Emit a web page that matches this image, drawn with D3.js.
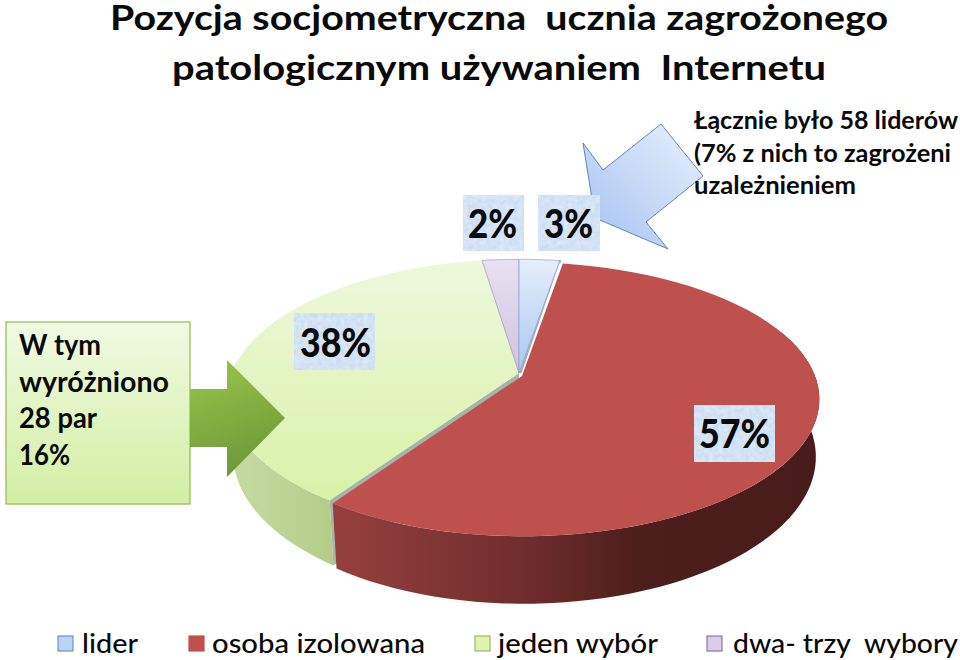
<!DOCTYPE html>
<html><head><meta charset="utf-8">
<script src="https://cdn.jsdelivr.net/npm/d3@7/dist/d3.min.js"></script>
<style>html,body{margin:0;padding:0;background:#fff}svg{display:block}text{font-family:Lato,Carlito,"Open Sans",sans-serif;font-weight:700;fill:#0a0a0a}</style>
</head><body><svg id="c" width="960" height="660"></svg>
<script>
const categories=["lider","osoba izolowana","jeden wybór","dwa- trzy  wybory"];
const values=[2.6,57,38,2.4];
const valueLabels=["3%","57%","38%","2%"];
const titleLines=["Pozycja socjometryczna  ucznia zagrożonego","patologicznym używaniem  Internetu"];
const noteLines=["Łącznie było 58 liderów","(7% z nich to zagrożeni","uzależnieniem"];
const boxLines=["W tym","wyróżniono","28 par","16%"];

const svg=d3.select("#c"),defs=svg.append("defs");
function grad(id,stops,x1,y1,x2,y2){
  const g=defs.append("linearGradient").attr("id",id).attr("x1",x1).attr("y1",y1).attr("x2",x2).attr("y2",y2);
  stops.forEach(s=>g.append("stop").attr("offset",s[0]).attr("stop-color",s[1]));
}
grad("gBlue",[[0,"#e6eefb"],[1,"#a9c6f3"]],0,0,0,1);
grad("gPurple",[[0,"#e8e1f1"],[1,"#cfc2e3"]],0,0,0,1);
grad("gGreen",[[0,"#eef8dc"],[1,"#d8f2a8"]],0,0,0,1);
grad("gBox",[[0,"#f0f9e2"],[1,"#d2efa3"]],0,0,0,1);
grad("gRedSide",[[0,"#96403e"],[.42,"#6c2c2b"],[.62,"#4d1f1c"],[1,"#481c1a"]],0,0,1,0);
grad("gGreenSide",[[0,"#c6dba4"],[1,"#b3cd88"]],0,0,1,0);
grad("gArrowB",[[0,"#eaf1fc"],[1,"#a3c2f2"]],1,0,0,1);
grad("gArrowG",[[0,"#9ac64a"],[1,"#6e9a3a"]],0,0,.3,1);
const noise=defs.append("filter").attr("id","mott").attr("x",0).attr("y",0).attr("width",1).attr("height",1).attr("color-interpolation-filters","sRGB");
noise.append("feTurbulence").attr("type","fractalNoise").attr("baseFrequency",.22).attr("numOctaves",2).attr("seed",4).attr("result","n");
noise.append("feColorMatrix").attr("in","n").attr("type","matrix").attr("values",".12 0 0 0 .77  .1 0 0 0 .84  .06 0 0 0 .93  0 0 0 0 1").attr("result","c");
noise.append("feComposite").attr("in","c").attr("in2","SourceGraphic").attr("operator","in");

// Pie geometry in perspective: the far edge is compressed, the wall base is slightly narrower
const apex={x:519,y:373},AR=293,AL=287,B=133,P=.17,DEPTH=56,ZX=.985;
const px=t=>(Math.sin(t)>=0?AR:AL)*Math.sin(t)/(1+P*Math.cos(t));
const py=t=>-B*Math.cos(t)/(1+P*Math.cos(t));
const dz=t=>DEPTH/(1+P*Math.cos(t));
const arcs=d3.pie().sort(null).value(d=>d)(values);
const offs=[{x:0,y:0},{x:3,y:3},{x:0,y:0},{x:0,y:0}];
const line=d3.line().x(d=>d[0]).y(d=>d[1]);
const samples=(a,b)=>d3.range(0,61).map(i=>a+(b-a)*i/60);
const rim=(a,b,o)=>samples(a,b).map(t=>[apex.x+o.x+px(t),apex.y+o.y+py(t)]);
const base=(a,b,o)=>samples(a,b).map(t=>[apex.x+o.x+1+px(t)*ZX,apex.y+o.y+py(t)+dz(t)]);
const g=svg.append("g");

const gr=arcs[2],rd=arcs[1];
const gEnd=Math.PI*1.5+.12,none={x:0,y:0};
// green wall
g.append("path").attr("d",line([...rim(gr.startAngle,gEnd,none),...base(gEnd,gr.startAngle,none)])+"Z").attr("fill","url(#gGreenSide)");
// green cut face: the grey gap
const cs=gr.startAngle;
g.append("path").attr("d",line([[apex.x,apex.y],[apex.x+px(cs),apex.y+py(cs)],[apex.x+1+px(cs)*ZX,apex.y+py(cs)+dz(cs)],[apex.x,apex.y+DEPTH]])+"Z").attr("fill","#a8b4a8");
// thin grey edge under lider
g.append("path").attr("d",line([[apex.x+1,apex.y],...rim(arcs[0].endAngle-.01,arcs[0].endAngle,{x:1,y:1})])).attr("stroke","#a9aeb0").attr("stroke-width",3).attr("fill","none");
// red wall
const rS=Math.PI/2-.35,rE=rd.endAngle;
g.append("path").attr("d",line([...rim(rS,rE,offs[1]),...base(rE,rS,offs[1])])+"Z").attr("fill","url(#gRedSide)");

const fills=["url(#gBlue)","#be504e","url(#gGreen)","url(#gPurple)"];
const strokes=["#8ea9cf","none","none","#a79bbd"];
[2,3,0,1].forEach(i=>{const a=arcs[i],o=offs[i];
  g.append("path").attr("d",line([[apex.x+o.x,apex.y+o.y],...rim(a.startAngle,a.endAngle,o)])+"Z")
   .attr("fill",fills[i]).attr("stroke",strokes[i]).attr("stroke-width",.8);
});

function fit(sel,w){sel.attr("textLength",w).attr("lengthAdjust","spacingAndGlyphs");}
// title
[[110,30,778],[172,80,654]].forEach((p,i)=>{
  svg.append("text").attr("x",p[0]).attr("y",p[1]).attr("font-size",35).style("white-space","pre").text(titleLines[i]).call(fit,p[2]);
});
// blue arrow
svg.append("path").attr("d",line([[583,143],[603,170],[661,124],[703,176],[646,222],[668,249],[595,218]])+"Z").attr("fill","url(#gArrowB)").attr("stroke","#5f88b4").attr("stroke-width",1);
// note
[[129,264],[162,257],[194,162]].forEach((p,i)=>{
  svg.append("text").attr("x",694).attr("y",p[0]).attr("font-size",25).text(noteLines[i]).call(fit,p[1]);
});
// left box and arrow
svg.append("rect").attr("x",6).attr("y",322).attr("width",184).attr("height",182).attr("fill","url(#gBox)").attr("stroke","#a3bf66").attr("stroke-width",1.4);
[[355,82],[392,150],[428,78],[465,51]].forEach((p,i)=>{
  svg.append("text").attr("x",19).attr("y",p[0]).attr("font-size",28).text(boxLines[i]).call(fit,p[1]);
});
svg.append("path").attr("d",line([[190,389],[227,389],[227,360],[285,418],[227,477],[227,447],[190,447]])+"Z").attr("fill","url(#gArrowG)");
// value labels
const lab=[[538,195,62,56,544,238,49],[694,405,81,57,699,448,71],[294,313,81,57,300,357,71],[463,195,61,56,468,238,49]];
lab.forEach((p,i)=>{
  svg.append("rect").attr("x",p[0]).attr("y",p[1]).attr("width",p[2]).attr("height",p[3]).attr("fill","#d6e4f5").attr("filter","url(#mott)");
  svg.append("text").attr("x",p[4]).attr("y",p[5]).attr("font-size",40).style("font-weight",900).text(valueLabels[i]).call(fit,p[6]);
});
// legend
const legFill=["#bcd3f4","#c0504d","#dff2b4","#d9cdea"],legStroke=["#6f93c4","#c0504d","#9bbb59","#8a74ab"];
[[58,82,56],[189,212,213],[475,498,160],[707,733,225]].forEach((p,i)=>{
  svg.append("rect").attr("x",p[0]).attr("y",636).attr("width",15).attr("height",15).attr("fill",legFill[i]).attr("stroke",legStroke[i]).attr("stroke-width",1.2);
  svg.append("text").attr("x",p[1]).attr("y",653).attr("font-size",27).style("font-weight",500).style("white-space","pre").text(categories[i]).call(fit,p[2]);
});
</script></body></html>
